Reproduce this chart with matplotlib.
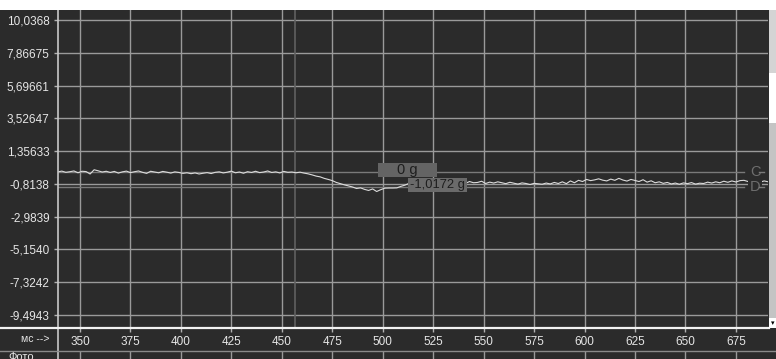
import numpy as np
import matplotlib.pyplot as plt
from matplotlib.lines import Line2D
from matplotlib.patches import Rectangle

plt.rcParams['font.family'] = ['Liberation Sans', 'DejaVu Sans']

# сигнал: отсчёты каждые 2 мс начиная с 339 мс
t_start = 339
t_step = 2
signal = [
    -0.02, 0.03, -0.05, -0.01, 0.04, -0.08, 0.02, 0.00, -0.16, 0.12,
    0.05, -0.03, 0.02, -0.06, 0.01, -0.10, -0.02, 0.03, -0.07, -0.01,
    0.04, -0.05, -0.12, 0.02, -0.03, -0.08, 0.01, -0.04, -0.10, -0.02,
    -0.06, -0.12, -0.08, -0.14, -0.09, -0.16, -0.11, -0.07, -0.13, -0.05,
    -0.02, -0.09, -0.04, 0.03, -0.08, -0.03, -0.11, -0.01, -0.06, 0.02,
    -0.07, -0.03, 0.04, -0.06, -0.02, -0.09, 0.01, -0.05, -0.03, -0.08,
    -0.04, -0.10, -0.15, -0.22, -0.30, -0.35, -0.45, -0.52, -0.60, -0.72,
    -0.80, -0.88, -0.95, -1.02, -1.12, -1.08, -1.18, -1.25, -1.15, -1.32,
    -1.20, -1.10, -1.09, -1.09, -1.08, -0.98, -0.90, -0.78, -0.55, -0.72,
    -0.76, -0.70, -0.80, -0.74, -0.68, -0.79, -0.73, -0.82, -0.71, -0.77,
    -0.69, -0.78, -0.66, -0.74, -0.72, -0.64, -0.79, -0.70, -0.76, -0.68,
    -0.74, -0.80, -0.71, -0.77, -0.83, -0.75, -0.79, -0.86, -0.78, -0.81,
    -0.84, -0.76, -0.82, -0.72, -0.79, -0.68, -0.80, -0.62, -0.74, -0.58,
    -0.66, -0.52, -0.60, -0.55, -0.48, -0.57, -0.62, -0.50, -0.58, -0.45,
    -0.56, -0.63, -0.52, -0.59, -0.66, -0.54, -0.70, -0.61, -0.74, -0.68,
    -0.78, -0.72, -0.82, -0.76, -0.84, -0.75, -0.80, -0.73, -0.83, -0.77,
    -0.79, -0.70, -0.76, -0.68, -0.74, -0.64, -0.71, -0.62, -0.69, -0.60,
    -0.58, -0.66, -0.72, -0.65, -0.70, -0.62, -0.68,
]

y_ticks = [10.0368, 7.86675, 5.69661, 3.52647, 1.35633,
           -0.8138, -2.9839, -5.1540, -7.3242, -9.4943]
y_labels = ['10,0368', '7,86675', '5,69661', '3,52647', '1,35633',
            '-0,8138', '-2,9839', '-5,1540', '-7,3242', '-9,4943']
x_ticks = [350, 375, 400, 425, 450, 475, 500, 525, 550, 575, 600, 625, 650, 675]
x_labels = [str(v) for v in x_ticks]

cursor_t = 456.6
level_c = 0.0
level_d = -1.0172
label_c = '0 g'
label_d = '-1,0172 g'

BG = '#2b2b2b'
GRID = '#9a9a9a'
TXT = '#e6e6e6'

W, H = 776, 359
fig = plt.figure(figsize=(W / 100, H / 100), dpi=100, facecolor=BG)


def fx(px):
    return px / W


def fy(py):
    return 1 - py / H


ax = fig.add_axes([fx(58), fy(328), fx(768) - fx(58), fy(10) - fy(328)])
ax.set_facecolor(BG)
ax.set_xlim(339.1, 690.9)
ax.set_ylim(-10.36, 10.70)
for s in ax.spines.values():
    s.set_visible(False)

ax.set_yticks(y_ticks)
ax.set_yticklabels(y_labels)
ax.set_xticks(x_ticks)
ax.set_xticklabels(x_labels)
ax.tick_params(axis='both', colors='#b0b0b0', labelcolor=TXT, labelsize=8.5,
               length=3, width=1, direction='out')
ax.tick_params(axis='y', pad=3)
ax.tick_params(axis='x', pad=2.5)
ax.grid(True, color=GRID, linewidth=1)

# курсоры
ax.axvline(cursor_t, color='#606060', linewidth=1.2, zorder=2)
for lvl in (level_c, level_d):
    ax.axhline(lvl, xmax=0.966, color='#7a7a7a', linewidth=1, zorder=2)
    ax.axhline(lvl, xmin=0.987, xmax=0.995, color='#7a7a7a', linewidth=1, zorder=6)

t = t_start + t_step * np.arange(len(signal))
ax.plot(t, signal, color='#dcdcdc', linewidth=0.8, zorder=3)

# подписи уровней курсоров в серых плашках
ax.add_patch(Rectangle((497.8, level_c - 0.36), 29.2, 0.93,
                       facecolor='#646464', edgecolor='none', zorder=5))
ax.text(512.4, level_c + 0.1, label_c, ha='center', va='center', fontsize=10.5,
        color='#1e1e1e', zorder=6)
ax.add_patch(Rectangle((512.7, level_d - 0.33), 29.3, 0.93,
                       facecolor='#6a6a6a', edgecolor='none', zorder=5))
ax.text(527.3, level_d + 0.13, label_d, ha='center', va='center', fontsize=9.3,
        color='#1e1e1e', zorder=6)

ax.text(684.5, level_c, 'C', ha='center', va='center', fontsize=10.5,
        color='#6e6e6e', bbox=dict(boxstyle='square,pad=0.1', facecolor=BG,
                                   edgecolor='none'), zorder=5)
ax.text(684.5, level_d, 'D', ha='center', va='center', fontsize=10.5,
        color='#6e6e6e', bbox=dict(boxstyle='square,pad=0.1', facecolor=BG,
                                   edgecolor='none'), zorder=5)

# нижняя полоса "Фото"
ax2 = fig.add_axes([fx(58), 0, fx(768) - fx(58), fy(351)])
ax2.set_facecolor(BG)
ax2.set_xlim(ax.get_xlim())
ax2.set_xticks(x_ticks)
ax2.set_yticks([])
ax2.tick_params(length=0, labelbottom=False)
ax2.grid(True, axis='x', color=GRID, linewidth=1)
for s in ax2.spines.values():
    s.set_visible(False)

# рамки и полосы окна
fig.add_artist(Rectangle((0, fy(10)), 1, 1 - fy(10), facecolor='white',
                         edgecolor='none', zorder=10))
fig.add_artist(Line2D([fx(58), fx(58)], [0, fy(10)], color='#c8c8c8', linewidth=1.2))
fig.add_artist(Line2D([0, fx(769)], [fy(328), fy(328)], color='#f2f2f2', linewidth=1.6))
fig.add_artist(Line2D([0, 1], [fy(351), fy(351)], color='#8a8a8a', linewidth=1))
fig.add_artist(Rectangle((fx(769), fy(73)), fx(7), fy(10) - fy(73),
                         facecolor='#d4d4d4', edgecolor='none', zorder=10))
fig.add_artist(Rectangle((fx(769), fy(123)), fx(7), fy(73) - fy(123),
                         facecolor='white', edgecolor='none', zorder=10))
fig.add_artist(Rectangle((fx(769), fy(318)), fx(7), fy(123) - fy(318),
                         facecolor='#c4c4c4', edgecolor='none', zorder=10))
fig.add_artist(Rectangle((fx(769), fy(328)), fx(7), fy(318) - fy(328),
                         facecolor='white', edgecolor='none', zorder=10))
fig.text(fx(773), fy(323), '▾', ha='center', va='center', fontsize=5, color='black',
         family='DejaVu Sans', zorder=11)

fig.text(fx(50), fy(339), 'мс -->', ha='right', va='center', fontsize=7.5, color=TXT)
fig.text(fx(8), fy(352), 'Фото', ha='left', va='top', fontsize=8, color=TXT)

fig.savefig('out.png', dpi=100, facecolor=BG)
